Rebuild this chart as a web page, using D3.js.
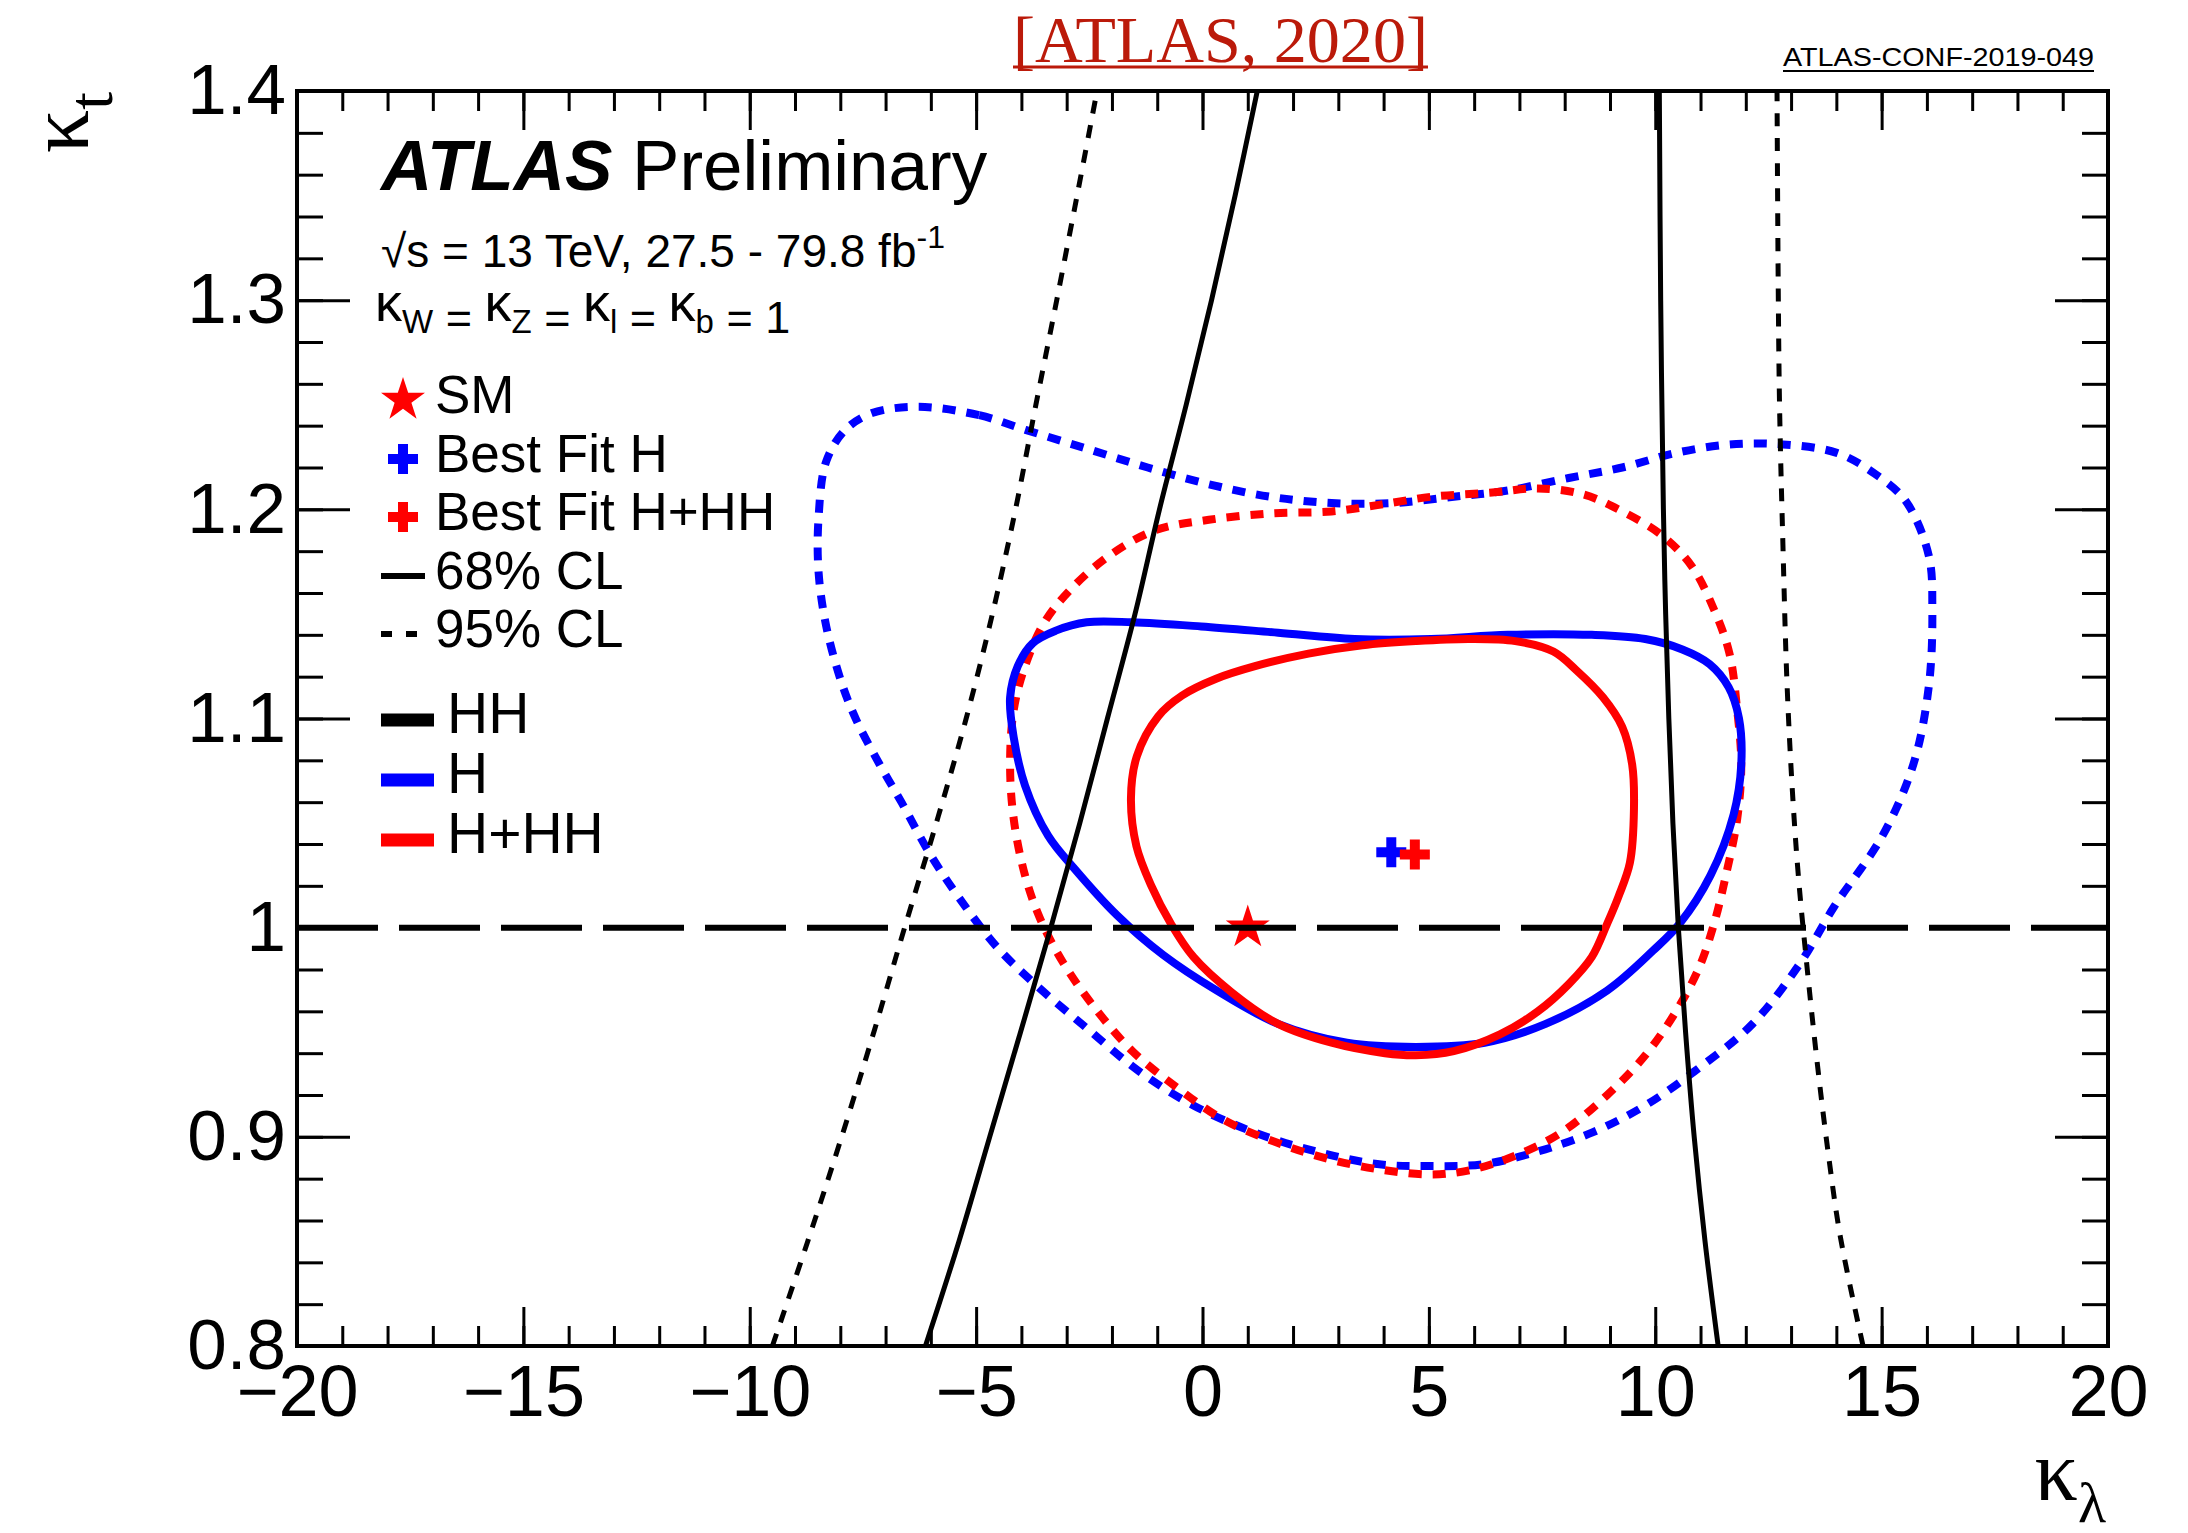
<!DOCTYPE html>
<html>
<head>
<meta charset="utf-8">
<script src="https://cdn.jsdelivr.net/npm/d3@7"></script>
<style>
  body { margin: 0; background: #fff; }
  svg { display: block; font-family: "Liberation Sans", Arial, Helvetica, sans-serif; }
</style>
</head>
<body>
<div id="chartArea"></div>
<script>
// kappa_lambda vs kappa_t likelihood contours
var xTicks = [-20, -15, -10, -5, 0, 5, 10, 15, 20];
var xTickLabels = ["\u221220", "\u221215", "\u221210", "\u22125", "0", "5", "10", "15", "20"];
var yTicks = [0.8, 0.9, 1.0, 1.1, 1.2, 1.3, 1.4];
var yTickLabels = ["0.8", "0.9", "1", "1.1", "1.2", "1.3", "1.4"];

var smPoint = [1.0, 1.0];
var bestFitH = [4.17, 1.036];
var bestFitHHH = [4.69, 1.035];

// H, 68% CL (blue solid)
var h68 = [[-4.25,1.110],[-4.17,1.091],[-3.92,1.068],[-3.41,1.044],[-2.82,1.028],[-1.89,1.006],
  [-0.87,0.987],[0.31,0.970],[1.67,0.954],[3.19,0.945],[4.71,0.943],[6.23,0.945],[7.58,0.954],
  [8.94,0.970],[9.95,0.989],[10.54,1.002],[11.22,1.025],[11.73,1.054],[11.90,1.078],[11.85,1.100],
  [11.62,1.115],[11.20,1.126],[10.60,1.133],[9.78,1.138],[8.60,1.140],[6.74,1.140],[5.05,1.138],
  [3.36,1.138],[1.67,1.141],[-0.03,1.144],[-1.55,1.146],[-2.56,1.146],[-3.24,1.142],[-3.75,1.136],
  [-4.08,1.125]];

// H+HH, 68% CL (red solid)
var hhh68 = [[-1.45,1.082],[-1.58,1.062],[-1.46,1.039],[-1.13,1.020],[-0.70,1.002],[-0.20,0.986],
  [0.65,0.969],[1.67,0.954],[2.85,0.945],[4.03,0.940],[4.71,0.939],[5.55,0.941],[6.57,0.949],
  [7.41,0.960],[8.09,0.973],[8.60,0.986],[8.94,1.002],[9.19,1.015],[9.44,1.031],[9.53,1.057],
  [9.49,1.078],[9.27,1.096],[8.85,1.110],[8.26,1.123],[7.75,1.132],[6.91,1.137],[5.89,1.138],
  [4.71,1.137],[3.53,1.135],[2.34,1.131],[1.16,1.125],[0.30,1.119],[-0.45,1.111],[-0.98,1.101]];

// H, 95% CL (blue dotted)
var h95 = [[-6.28,1.249],[-4.93,1.245],[-3.91,1.238],[-2.56,1.229],[-1.21,1.220],[0.14,1.212],
  [1.50,1.206],[2.85,1.203],[4.20,1.203],[5.55,1.206],[6.74,1.209],[8.09,1.215],[9.27,1.220],
  [10.46,1.227],[11.64,1.231],[12.82,1.231],[14.01,1.227],[14.85,1.217],[15.53,1.204],[16.04,1.178],
  [16.12,1.152],[16.04,1.115],[15.70,1.078],[15.02,1.044],[13.95,1.010],[13.20,0.983],[12.15,0.954],
  [10.97,0.933],[9.78,0.915],[8.60,0.902],[7.41,0.893],[6.23,0.887],[5.05,0.886],[3.86,0.887],
  [2.51,0.893],[1.16,0.902],[-0.20,0.915],[-1.38,0.931],[-2.56,0.952],[-3.70,0.973],[-4.55,0.991],
  [-5.40,1.015],[-6.04,1.036],[-6.65,1.060],[-7.13,1.078],[-7.64,1.099],[-7.97,1.117],[-8.31,1.144],
  [-8.48,1.170],[-8.48,1.196],[-8.31,1.223],[-7.89,1.238],[-7.30,1.246]];

// H+HH, 95% CL (red dotted)
var hhh95 = [[7.41,1.210],[8.43,1.207],[9.27,1.199],[10.12,1.188],[10.80,1.173],[11.30,1.152],
  [11.64,1.131],[11.81,1.104],[11.90,1.078],[11.81,1.052],[11.56,1.025],[11.30,1.002],[10.97,0.981],
  [10.46,0.960],[9.78,0.939],[8.94,0.920],[7.92,0.902],[6.91,0.891],[5.89,0.884],[5.05,0.882],
  [4.03,0.884],[2.85,0.889],[1.67,0.897],[0.48,0.908],[-0.53,0.923],[-1.55,0.941],[-2.39,0.962],
  [-3.07,0.983],[-3.58,1.004],[-3.92,1.025],[-4.17,1.052],[-4.25,1.078],[-4.17,1.104],[-3.92,1.125],
  [-3.49,1.146],[-2.90,1.162],[-2.05,1.178],[-1.04,1.190],[0.14,1.195],[1.50,1.198],[2.85,1.199],
  [3.86,1.202],[5.05,1.206],[6.40,1.208]];

// HH only (black), open curves crossing the frame
var hh68Left = [[-6.12,0.80],[-5.38,0.85],[-4.70,0.90],[-4.02,0.95],[-3.35,1.00],[-2.71,1.05],
  [-2.10,1.10],[-1.49,1.15],[-0.95,1.20],[-0.36,1.25],[0.20,1.30],[0.72,1.35],[1.21,1.40]];
var hh68Right = [[11.39,0.80],[11.10,0.85],[10.86,0.90],[10.67,0.95],[10.51,1.00],[10.39,1.05],
  [10.30,1.10],[10.23,1.15],[10.18,1.20],[10.12,1.30],[10.09,1.40]];
var hh95Left = [[-9.50,0.80],[-8.72,0.85],[-7.97,0.90],[-7.26,0.95],[-6.58,1.00],[-5.88,1.05],
  [-5.22,1.10],[-4.64,1.15],[-4.13,1.20],[-3.68,1.25],[-3.22,1.30],[-2.77,1.35],[-2.33,1.40]];
var hh95Right = [[14.59,0.8],[14.09,0.852],[13.84,0.889],[13.59,0.933],[13.33,0.986],[13.16,1.025],
  [13.03,1.065],[12.91,1.117],[12.82,1.183],[12.74,1.257],[12.69,1.4]];

var legendMarkers = ["SM", "Best Fit H", "Best Fit H+HH"];
var legendStyles = ["68% CL", "95% CL"];
var legendSources = ["HH", "H", "H+HH"];

var width = 2188, height = 1533;
var frame = {left: 297, right: 2108, top: 91, bottom: 1346};
var BLUE = "#0000ff", RED = "#ff0000";

var x = d3.scaleLinear().domain([-20, 20]).range([frame.left, frame.right]);
var y = d3.scaleLinear().domain([0.8, 1.4]).range([frame.bottom, frame.top]);

var svg = d3.select('#chartArea').append('svg')
    .attr('width', width)
    .attr('height', height);

svg.append('defs').append('clipPath').attr('id', 'plotClip')
    .append('rect')
    .attr('x', frame.left).attr('y', frame.top)
    .attr('width', frame.right - frame.left).attr('height', frame.bottom - frame.top);

var plot = svg.append('g').attr('clip-path', 'url(#plotClip)');

var closedLine = d3.line().x(function(d){ return x(d[0]); }).y(function(d){ return y(d[1]); })
    .curve(d3.curveCatmullRomClosed.alpha(0.5));
var openLine = d3.line().x(function(d){ return x(d[0]); }).y(function(d){ return y(d[1]); })
    .curve(d3.curveCatmullRom.alpha(0.5));

function contour(data, color, dotted) {
    plot.append('path')
        .attr('d', closedLine(data))
        .attr('fill', 'none')
        .attr('stroke', color)
        .attr('stroke-width', 8)
        .attr('stroke-dasharray', dotted ? '13 11' : null);
}
contour(h95, BLUE, true);
contour(hhh95, RED, true);
contour(h68, BLUE, false);
contour(hhh68, RED, false);

[[hh68Left, false], [hh68Right, false], [hh95Left, true], [hh95Right, true]].forEach(function(c) {
    plot.append('path')
        .attr('d', openLine(c[0]))
        .attr('fill', 'none')
        .attr('stroke', '#000')
        .attr('stroke-width', 5)
        .attr('stroke-dasharray', c[1] ? '13 12' : null);
});

// markers
var star = d3.symbol().type(d3.symbolStar).size(600);
var cross = d3.symbol().type(d3.symbolCross).size(500);
plot.append('path').attr('d', star())
    .attr('transform', 'translate(' + x(smPoint[0]) + ',' + y(smPoint[1]) + ')')
    .attr('fill', RED);
plot.append('path').attr('d', cross())
    .attr('transform', 'translate(' + x(bestFitH[0]) + ',' + y(bestFitH[1]) + ')')
    .attr('fill', BLUE);
plot.append('path').attr('d', cross())
    .attr('transform', 'translate(' + x(bestFitHHH[0]) + ',' + y(bestFitHHH[1]) + ')')
    .attr('fill', RED);

// SM reference line kappa_t = 1
plot.append('line')
    .attr('x1', x(-20)).attr('x2', x(20))
    .attr('y1', y(1)).attr('y2', y(1))
    .attr('stroke', '#000').attr('stroke-width', 6)
    .attr('stroke-dasharray', '81 21');

// axes, ROOT style: ticks inside on all four sides
function styleAxis(g) {
    g.select('.domain').remove();
    g.selectAll('.tick line').attr('stroke', '#000').attr('stroke-width', 3);
    g.selectAll('.tick text').attr('fill', '#000');
}
var xMinor = d3.range(-20, 20.5, 1);
var yMinor = d3.range(0, 31).map(function(i){ return 0.8 + i * 0.02; });

svg.append('g').attr('transform', 'translate(0,' + frame.bottom + ')')
    .call(d3.axisBottom(x).tickValues(xMinor).tickFormat('').tickSizeInner(-20).tickSizeOuter(0))
    .call(styleAxis);
svg.append('g').attr('transform', 'translate(0,' + frame.bottom + ')')
    .call(d3.axisBottom(x).tickValues(xTicks).tickFormat(function(d, i){ return xTickLabels[i]; })
          .tickSizeInner(-39).tickSizeOuter(0).tickPadding(19))
    .call(styleAxis)
    .selectAll('text').style('font-size', '72px');
svg.append('g').attr('transform', 'translate(0,' + frame.top + ')')
    .call(d3.axisTop(x).tickValues(xMinor).tickFormat('').tickSizeInner(-20).tickSizeOuter(0))
    .call(styleAxis);
svg.append('g').attr('transform', 'translate(0,' + frame.top + ')')
    .call(d3.axisTop(x).tickValues(xTicks).tickFormat('').tickSizeInner(-39).tickSizeOuter(0))
    .call(styleAxis);

svg.append('g').attr('transform', 'translate(' + frame.left + ',0)')
    .call(d3.axisLeft(y).tickValues(yMinor).tickFormat('').tickSizeInner(-26).tickSizeOuter(0))
    .call(styleAxis);
svg.append('g').attr('transform', 'translate(' + frame.left + ',0)')
    .call(d3.axisLeft(y).tickValues(yTicks).tickFormat(function(d, i){ return yTickLabels[i]; })
          .tickSizeInner(-53).tickSizeOuter(0).tickPadding(11))
    .call(styleAxis)
    .selectAll('text').style('font-size', '71px');
svg.append('g').attr('transform', 'translate(' + frame.right + ',0)')
    .call(d3.axisRight(y).tickValues(yMinor).tickFormat('').tickSizeInner(-26).tickSizeOuter(0))
    .call(styleAxis);
svg.append('g').attr('transform', 'translate(' + frame.right + ',0)')
    .call(d3.axisRight(y).tickValues(yTicks).tickFormat('').tickSizeInner(-53).tickSizeOuter(0))
    .call(styleAxis);

svg.append('rect')
    .attr('x', frame.left).attr('y', frame.top)
    .attr('width', frame.right - frame.left).attr('height', frame.bottom - frame.top)
    .attr('fill', 'none').attr('stroke', '#000').attr('stroke-width', 4);

// axis titles
var serif = '"Liberation Serif", "Times New Roman", serif';
var xt = svg.append('text')
    .attr('x', frame.right - 2).attr('y', 1500)
    .attr('text-anchor', 'end')
    .style('font-family', serif);
xt.append('tspan').style('font-size', '86px').text('\u03ba');
xt.append('tspan').attr('dy', 22).style('font-size', '58px').text('\u03bb');

var yt = svg.append('text')
    .attr('transform', 'translate(88,' + (frame.top + 1) + ') rotate(-90)')
    .attr('text-anchor', 'end')
    .style('font-family', serif);
yt.append('tspan').style('font-size', '86px').text('\u03ba');
yt.append('tspan').attr('dy', 24).style('font-size', '64px').text('t');

// header texts
svg.append('text')
    .attr('x', 1013).attr('y', 62)
    .attr('textLength', 415).attr('lengthAdjust', 'spacingAndGlyphs')
    .style('font-family', serif).style('font-size', '66px')
    .attr('fill', '#bb1a0a')
    .text('[ATLAS, 2020]');
svg.append('line')
    .attr('x1', 1013).attr('x2', 1428).attr('y1', 67).attr('y2', 67)
    .attr('stroke', '#bb1a0a').attr('stroke-width', 3);

svg.append('text')
    .attr('x', 1783).attr('y', 66)
    .attr('textLength', 311).attr('lengthAdjust', 'spacingAndGlyphs')
    .style('font-size', '26px')
    .text('ATLAS-CONF-2019-049');
svg.append('line')
    .attr('x1', 1783).attr('x2', 2094).attr('y1', 71).attr('y2', 71)
    .attr('stroke', '#000').attr('stroke-width', 2);

var atl = svg.append('text').attr('x', 381).attr('y', 190).style('font-size', '71px');
atl.append('tspan').style('font-weight', 'bold').style('font-style', 'italic').text('ATLAS');
atl.append('tspan').text(' Preliminary');

var lumi = svg.append('text').attr('x', 381).attr('y', 267).style('font-size', '46px');
lumi.append('tspan').text('\u221as = 13 TeV, 27.5 - 79.8 fb');
lumi.append('tspan').attr('dy', -19).style('font-size', '32px').text('-1');

var kap = svg.append('text').attr('x', 375).attr('y', 321).style('font-size', '45px');
[['W', ' = '], ['Z', ' = '], ['l', ' = '], ['b', ' = 1']].forEach(function(p, i) {
    kap.append('tspan').attr('dy', i ? -12 : 0).style('font-size', '54px').text('\u03ba');
    kap.append('tspan').attr('dy', 12).style('font-size', '33px').text(p[0]);
    kap.append('tspan').attr('dy', 0).text(p[1]);
});

// legend
var legend = svg.append('g');
var markerRows = [400, 459, 517];
legend.append('path').attr('d', star())
    .attr('transform', 'translate(403,' + markerRows[0] + ')').attr('fill', RED);
legend.append('path').attr('d', cross())
    .attr('transform', 'translate(403,' + markerRows[1] + ')').attr('fill', BLUE);
legend.append('path').attr('d', cross())
    .attr('transform', 'translate(403,' + markerRows[2] + ')').attr('fill', RED);
legendMarkers.forEach(function(label, i) {
    legend.append('text').attr('x', 435).attr('y', markerRows[i] + 13)
        .style('font-size', '53px').text(label);
});

var styleRows = [576, 634];
legendStyles.forEach(function(label, i) {
    legend.append('line')
        .attr('x1', 381).attr('x2', i ? 419 : 425)
        .attr('y1', styleRows[i]).attr('y2', styleRows[i])
        .attr('stroke', '#000').attr('stroke-width', 6)
        .attr('stroke-dasharray', i ? '11 14' : null);
    legend.append('text').attr('x', 435).attr('y', styleRows[i] + 13)
        .style('font-size', '53px').text(label);
});

var sourceRows = [720, 780, 840];
var sourceColors = ['#000', BLUE, RED];
legendSources.forEach(function(label, i) {
    legend.append('line')
        .attr('x1', 381).attr('x2', 434)
        .attr('y1', sourceRows[i]).attr('y2', sourceRows[i])
        .attr('stroke', sourceColors[i]).attr('stroke-width', 13);
    legend.append('text').attr('x', 447).attr('y', sourceRows[i] + 13)
        .style('font-size', '57px').text(label);
});
</script>
</body>
</html>
